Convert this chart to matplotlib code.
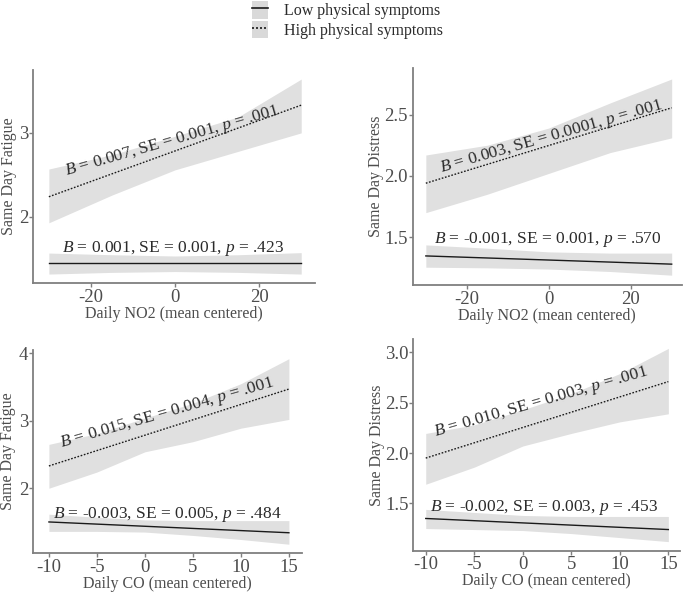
import matplotlib
matplotlib.use("Agg")
import matplotlib.pyplot as plt
from matplotlib.lines import Line2D
from matplotlib.patches import Patch

plt.rcParams["font.family"] = ["Liberation Serif", "DejaVu Serif"]
plt.rcParams["mathtext.fontset"] = "custom"
plt.rcParams["mathtext.rm"] = "Liberation Serif"
plt.rcParams["mathtext.it"] = "Liberation Serif:italic"
plt.rcParams["axes.unicode_minus"] = False

# x grids where the bands were read
no2_x = [-30, -15, 0, 15, 30]
co_x = [-10, -5, 0, 5, 10, 15]
no2_ends = [-30, 30]
co_ends = [-10, 15]

# Fatigue ~ NO2
fat_no2_high = [2.24, 3.33]
fat_no2_high_lo = [1.93, 2.26, 2.56, 2.78, 3.00]
fat_no2_high_hi = [2.57, 2.74, 2.96, 3.19, 3.64]
fat_no2_low = [1.45, 1.45]
fat_no2_low_lo = [1.32, 1.34, 1.35, 1.34, 1.32]
fat_no2_low_hi = [1.57, 1.55, 1.535, 1.55, 1.575]

# Distress ~ NO2
dis_no2_high = [1.94, 2.555]
dis_no2_high_lo = [1.70, 1.85, 2.02, 2.19, 2.31]
dis_no2_high_hi = [2.17, 2.25, 2.39, 2.595, 2.79]
dis_no2_low = [1.347, 1.28]
dis_no2_low_lo = [1.255, 1.25, 1.24, 1.22, 1.19]
dis_no2_low_hi = [1.437, 1.41, 1.38, 1.37, 1.37]

# Fatigue ~ CO
fat_co_high = [2.33, 3.47]
fat_co_high_lo = [2.00, 2.24, 2.54, 2.69, 2.89, 3.02]
fat_co_high_hi = [2.65, 2.81, 3.04, 3.26, 3.55, 3.92]
fat_co_low = [1.50, 1.34]
fat_co_low_lo = [1.36, 1.36, 1.35, 1.30, 1.24, 1.17]
fat_co_low_hi = [1.615, 1.57, 1.53, 1.52, 1.52, 1.52]

# Distress ~ CO
dis_co_high = [1.95, 2.71]
dis_co_high_lo = [1.69, 1.86, 2.07, 2.195, 2.31, 2.39]
dis_co_high_hi = [2.195, 2.28, 2.43, 2.59, 2.79, 3.04]
dis_co_low = [1.35, 1.24]
dis_co_low_lo = [1.25, 1.24, 1.23, 1.20, 1.16, 1.12]
dis_co_low_hi = [1.44, 1.41, 1.38, 1.37, 1.37, 1.37]

panels = [
    dict(rect=[0.048, 0.522, 0.412, 0.360], x=no2_x, ends=no2_ends,
         high=fat_no2_high, hlo=fat_no2_high_lo, hhi=fat_no2_high_hi,
         low=fat_no2_low, llo=fat_no2_low_lo, lhi=fat_no2_low_hi,
         xlim=(-33.8, 33.3), ylim=(1.214, 3.75), yticks=[2, 3], ytl=["2", "3"],
         xticks=[-20, 0, 20], xlabel="Daily NO2 (mean centered)", ylabel="Same Day Fatigue",
         ylab_x=-0.058,
         hi_txt=r"$B$ = 0.007, SE = 0.001, $p$ = .001", hi_pos=(-0.8, 2.90),
         lo_txt=r"$B$ = 0.001, SE = 0.001, $p$ = .423", lo_pos=(-0.4, 1.63)),
    dict(rect=[0.6025, 0.5186, 0.393, 0.3666], x=no2_x, ends=no2_ends,
         high=dis_no2_high, hlo=dis_no2_high_lo, hhi=dis_no2_high_hi,
         low=dis_no2_low, llo=dis_no2_low_lo, lhi=dis_no2_low_hi,
         xlim=(-33.2, 32.5), ylim=(1.11, 2.88), yticks=[1.5, 2.0, 2.5], ytl=["1.5", "2.0", "2.5"],
         xticks=[-20, 0, 20], xlabel="Daily NO2 (mean centered)", ylabel="Same Day Distress",
         ylab_x=-0.107,
         hi_txt=r"$B$ = 0.003, SE = 0.0001, $p$ = .001", hi_pos=(0.65, 2.32),
         lo_txt=r"$B$ = -0.001, SE = 0.001, $p$ = .570", lo_pos=(-0.2, 1.48)),
    dict(rect=[0.048, 0.0659, 0.3927, 0.343], x=co_x, ends=co_ends,
         high=fat_co_high, hlo=fat_co_high_lo, hhi=fat_co_high_hi,
         low=fat_co_low, llo=fat_co_low_lo, lhi=fat_co_low_hi,
         xlim=(-11.67, 16.35), ylim=(1.04, 4.05), yticks=[2, 3, 4], ytl=["2", "3", "4"],
         xticks=[-10, -5, 0, 5, 10, 15], xlabel="Daily CO (mean centered)", ylabel="Same Day Fatigue",
         ylab_x=-0.062,
         hi_txt=r"$B$ = 0.015, SE = 0.004, $p$ = .001", hi_pos=(2.3, 3.11),
         lo_txt=r"$B$ = -0.003, SE = 0.005, $p$ = .484", lo_pos=(2.3, 1.61)),
    dict(rect=[0.6034, 0.0698, 0.3893, 0.357], x=co_x, ends=co_ends,
         high=dis_co_high, hlo=dis_co_high_lo, hhi=dis_co_high_hi,
         low=dis_co_low, llo=dis_co_low_lo, lhi=dis_co_low_hi,
         xlim=(-11.28, 16.2), ylim=(1.03, 3.13), yticks=[1.5, 2.0, 2.5, 3.0],
         ytl=["1.5", "2.0", "2.5", "3.0"],
         xticks=[-10, -5, 0, 5, 10, 15], xlabel="Daily CO (mean centered)", ylabel="Same Day Distress",
         ylab_x=-0.108,
         hi_txt=r"$B$ = 0.010, SE = 0.003, $p$ = .001", hi_pos=(1.9, 2.50),
         lo_txt=r"$B$ = -0.002, SE = 0.003, $p$ = .453", lo_pos=(2.2, 1.46)),
]

band_col = "#e0e0e0"
axis_col = "#4d4d4d"
txt_col = "#2b2b2b"

fig = plt.figure(figsize=(6.85, 5.92), dpi=100)

for p in panels:
    ax = fig.add_axes(p["rect"])
    ax.fill_between(p["x"], p["hlo"], p["hhi"], color=band_col, lw=0)
    ax.fill_between(p["x"], p["llo"], p["lhi"], color=band_col, lw=0)
    ax.plot(p["ends"], p["high"], color="#1a1a1a", lw=1.0, ls=(0, (1.2, 1.2)))
    ax.plot(p["ends"], p["low"], color="#1a1a1a", lw=1.0)
    ax.text(*p["hi_pos"], p["hi_txt"], rotation=16, rotation_mode="anchor",
            ha="center", va="center", fontsize=12.5, color=txt_col)
    ax.text(*p["lo_pos"], p["lo_txt"], ha="center", va="center",
            fontsize=12.5, color=txt_col)
    ax.set_xlim(p["xlim"])
    ax.set_ylim(p["ylim"])
    ax.set_xticks(p["xticks"])
    ax.set_yticks(p["yticks"])
    ax.set_yticklabels(p["ytl"])
    ax.set_xlabel(p["xlabel"], fontsize=11.5, color=axis_col, labelpad=0)
    ax.set_ylabel(p["ylabel"], fontsize=11.5, color=axis_col)
    ax.yaxis.set_label_coords(p["ylab_x"], 0.5)
    for s in ["top", "right"]:
        ax.spines[s].set_visible(False)
    for s in ["left", "bottom"]:
        ax.spines[s].set_color("#7f7f7f")
        ax.spines[s].set_linewidth(1.3)
    ax.tick_params(axis="both", colors="#7f7f7f", labelcolor=axis_col,
                   labelsize=13.5, length=3, width=1, pad=1)
    ax.tick_params(axis="y", pad=0.5)

handles = [
    (Patch(facecolor="#d9d9d9", edgecolor="none"), Line2D([], [], color="#1a1a1a", lw=1.2)),
    (Patch(facecolor="#d9d9d9", edgecolor="none"),
     Line2D([], [], color="#1a1a1a", lw=1.2, ls=(0, (1.2, 1.2)))),
]
fig.legend(handles, ["Low physical symptoms", "High physical symptoms"],
           loc="center", bbox_to_anchor=(0.507, 0.966), frameon=False,
           fontsize=11.5, handlelength=1.0, handleheight=1.3, handletextpad=1.0,
           labelspacing=0.1, labelcolor=txt_col)

fig.savefig("out.png", dpi=100, facecolor="white")
